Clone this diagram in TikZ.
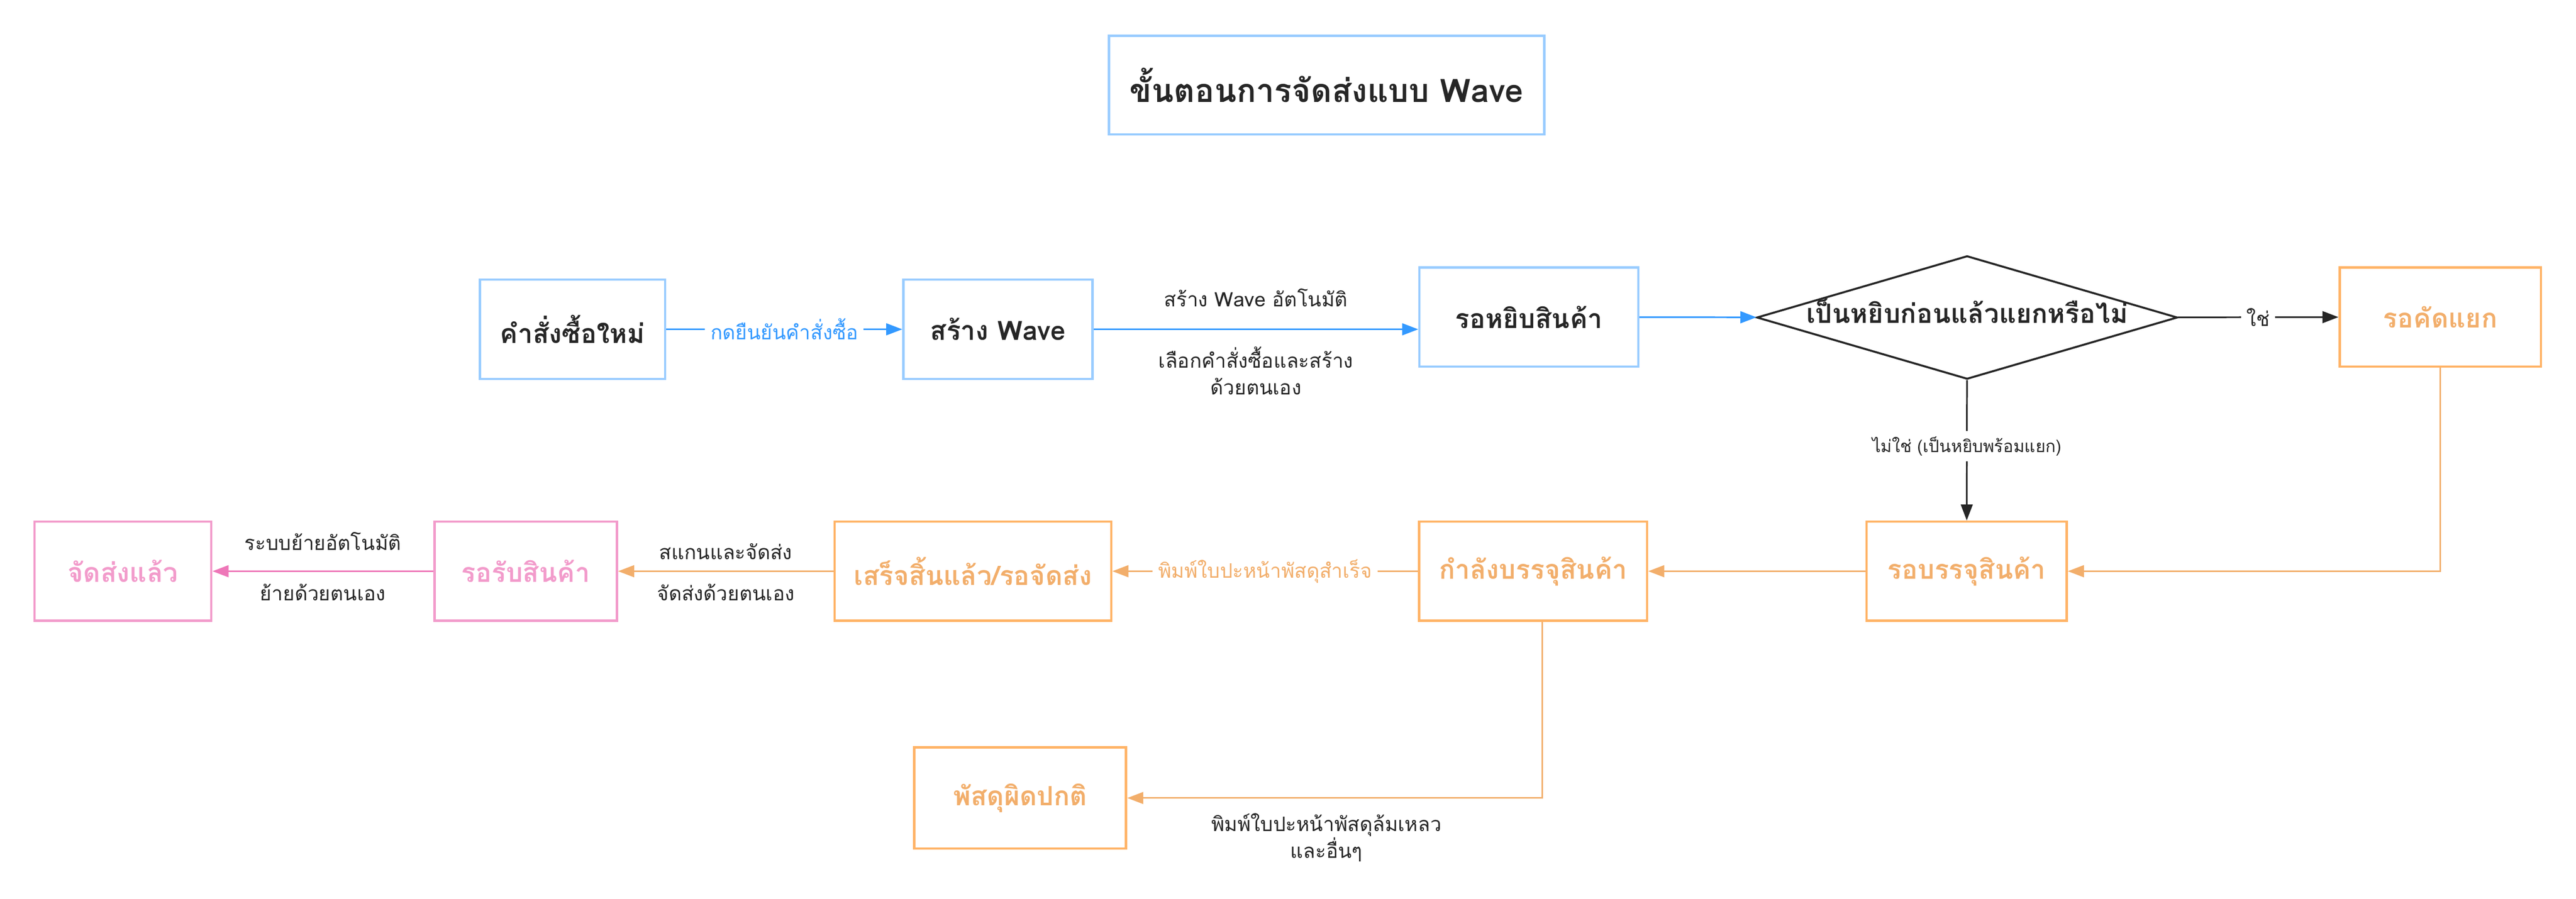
\documentclass[tikz,border=0pt]{standalone}
\usepackage{fontspec}
\newfontfamily\thaifont[Script=Thai]{Loma}
\usetikzlibrary{shapes.geometric,arrows.meta}
\definecolor{boxblue}{HTML}{99CCFF}
\definecolor{lineblue}{HTML}{3399FF}
\definecolor{boxorange}{HTML}{FFB366}
\definecolor{lineorange}{HTML}{F2AE6B}
\definecolor{boxpink}{HTML}{F29BCB}
\definecolor{linepink}{HTML}{EE77B8}
\definecolor{ink}{HTML}{262626}
\begin{document}
\begin{tikzpicture}[y=-1cm, font=\thaifont,
      base/.style={rectangle, draw=boxblue, line width=1.4pt, minimum height=2.1cm, text=ink,
        font=\thaifont\bfseries\fontsize{16}{19}\selectfont},
      title/.style={base, font=\thaifont\bfseries\fontsize{19.5}{23}\selectfont},
      orangebox/.style={base, draw=boxorange, text=lineorange},
      pinkbox/.style={base, draw=boxpink, text=boxpink},
      decision/.style={diamond, draw=ink, line width=1.2pt, aspect=3.41, inner sep=0pt,
        minimum width=8.9cm, minimum height=2.61cm, text=ink, text height=0.32cm, text depth=0.08cm,
        font=\thaifont\bfseries\fontsize{16}{19}\selectfont},
      link/.style={-{Triangle[length=0.34cm, width=0.25cm]}, line width=1pt},
      note/.style={font=\thaifont\fontsize{12}{16}\selectfont, text=ink, align=center}]
      \useasboundingbox (0,0) rectangle (54.49,19.02);
      % top row
      \node[title, minimum width=9.21cm, minimum height=2.09cm] (head) at (28.06,1.80) {ขั้นตอนการจัดส่งแบบ Wave};
      \node[base, minimum width=3.92cm] (neworder) at (12.11,6.97) {คำสั่งซื้อใหม่};
      \node[base, minimum width=4.00cm] (wave) at (21.11,6.97) {สร้าง Wave};
      \node[base, minimum width=4.63cm] (picking) at (32.34,6.71) {รอหยิบสินค้า};
      \node[decision] (check) at (41.61,6.72) {เป็นหยิบก่อนแล้วแยกหรือไม่};
      \node[orangebox, minimum width=4.26cm] (sorting) at (51.62,6.71) {รอคัดแยก};
      % bottom row, right to left
      \node[orangebox, minimum width=4.23cm] (topack) at (41.60,12.09) {รอบรรจุสินค้า};
      \node[orangebox, minimum width=4.82cm] (packing) at (32.43,12.09) {กำลังบรรจุสินค้า};
      \node[orangebox, minimum width=5.85cm] (ready) at (20.58,12.09) {เสร็จสิ้นแล้ว/รอจัดส่ง};
      \node[pinkbox, minimum width=3.86cm] (pickup) at (11.12,12.09) {รอรับสินค้า};
      \node[pinkbox, minimum width=3.74cm] (shipped) at (2.60,12.09) {จัดส่งแล้ว};
      \node[orangebox, minimum width=4.48cm, minimum height=2.14cm] (faulty) at (21.58,16.89) {พัสดุผิดปกติ};

      \draw[link, draw=lineblue] (neworder) -- node[note, fill=white, text=lineblue] {กดยืนยันคำสั่งซื้อ} (wave);
      \draw[link, draw=lineblue] (wave.east) -- (wave.east -| picking.west)
        node[note, midway, yshift=0.67cm] {สร้าง Wave อัตโนมัติ}
        node[note, midway, yshift=-0.88cm] {เลือกคำสั่งซื้อและสร้าง\\ด้วยตนเอง};
      \draw[link, draw=lineblue] (picking) -- (check);
      \draw[link, draw=ink] (check) -- node[note, fill=white] {ใช่} (sorting);
      \draw[link, draw=ink] (check) -- node[note, fill=white, pos=0.47, font=\thaifont\fontsize{10.2}{13}\selectfont] {ไม่ใช่ (เป็นหยิบพร้อมแยก)} (topack);
      \draw[link, draw=lineorange] (sorting) |- (topack);
      \draw[link, draw=lineorange] (topack) -- (packing);
      \draw[link, draw=lineorange] (packing) -- node[note, fill=white, text=lineorange] {พิมพ์ใบปะหน้าพัสดุสำเร็จ} (ready);
      \draw[link, draw=lineorange] ([xshift=0.19cm]packing.south) |- (faulty)
        node[note, pos=0.76, yshift=-0.84cm] {พิมพ์ใบปะหน้าพัสดุล้มเหลว\\และอื่นๆ};
      \draw[link, draw=lineorange] (ready) -- (pickup)
        node[note, midway, yshift=0.42cm] {สแกนและจัดส่ง}
        node[note, midway, yshift=-0.45cm] {จัดส่งด้วยตนเอง};
      \draw[link, draw=linepink] (pickup) -- (shipped)
        node[note, midway, yshift=0.63cm] {ระบบย้ายอัตโนมัติ}
        node[note, midway, yshift=-0.45cm] {ย้ายด้วยตนเอง};
    \end{tikzpicture}
\end{document}
